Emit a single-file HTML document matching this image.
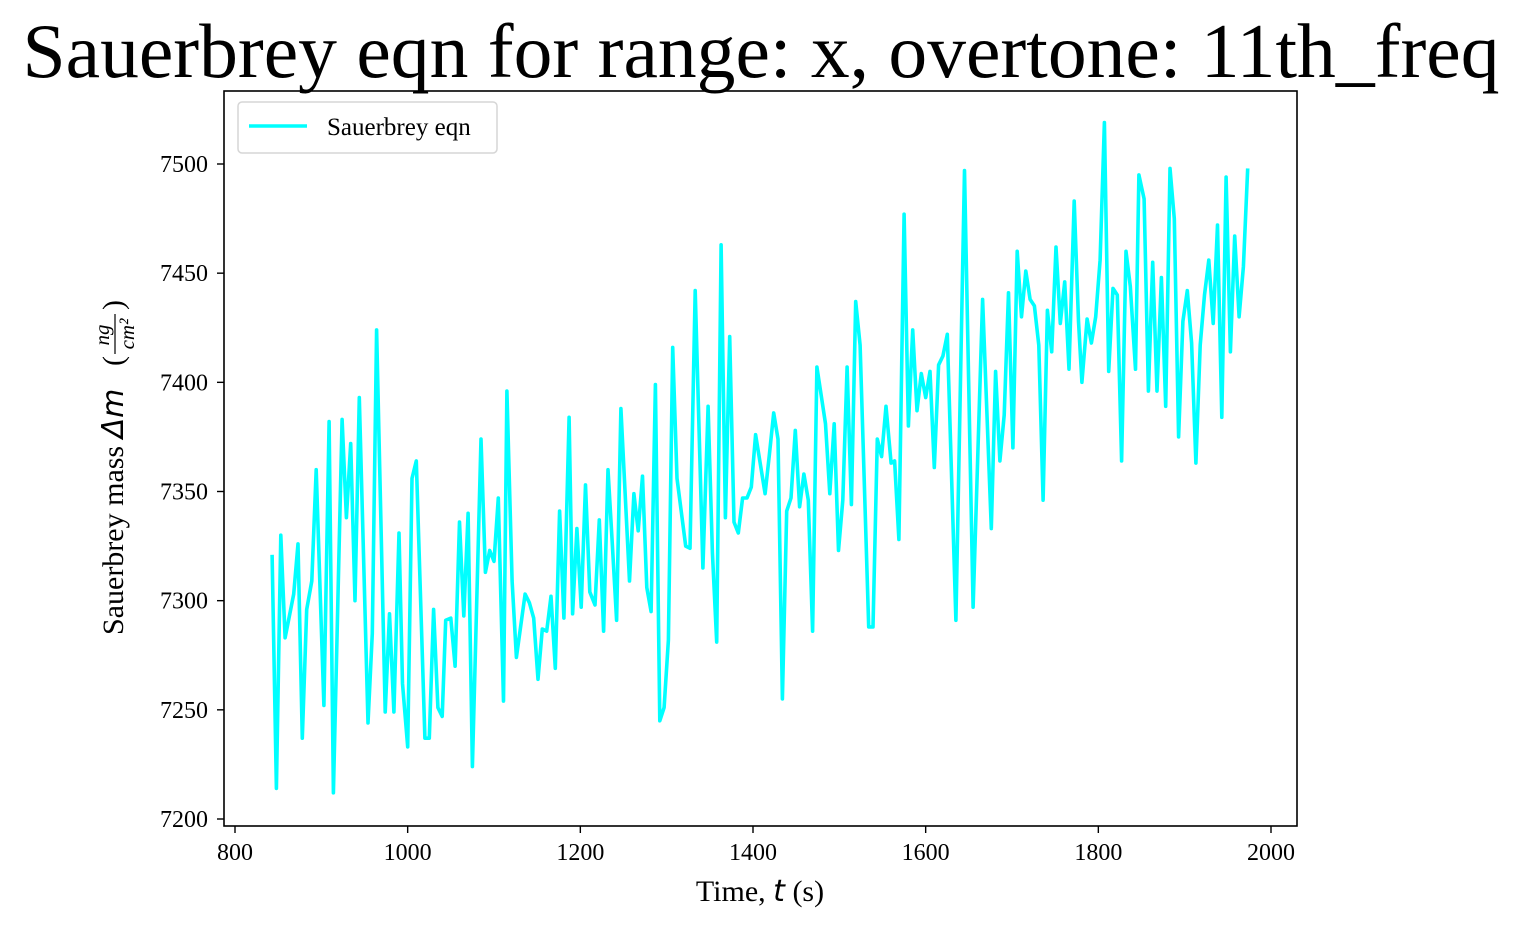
<!DOCTYPE html>
<html>
<head>
<meta charset="utf-8">
<style>
  html, body { margin: 0; padding: 0; background: #ffffff; }
  svg { display: block; }
  text { font-family: "Liberation Serif", "DejaVu Serif", serif; fill: #000; }
</style>
</head>
<body>
<svg id="chart" width="1520" height="932" viewBox="0 0 1520 932" xmlns="http://www.w3.org/2000/svg">
  <rect x="0" y="0" width="1520" height="932" fill="#fff"/>
  <text x="761" y="77" font-size="77" text-anchor="middle" textLength="1477" lengthAdjust="spacingAndGlyphs">Sauerbrey eqn for range: x, overtone: 11th_freq</text>
  <g id="xticks"></g>
  <g id="yticks"></g>
  <g id="series"></g>
  <rect x="224" y="91" width="1073" height="735" fill="none" stroke="#000" stroke-width="1.6"/>
  <text x="760" y="901" font-size="30" text-anchor="middle">Time, <tspan font-family="DejaVu Sans, sans-serif" font-style="italic">t</tspan> (s)</text>
  <g transform="translate(123,458) rotate(-90)">
    <text x="-177" y="0" font-size="30">Sauerbrey mass <tspan font-family="DejaVu Sans, sans-serif" font-style="italic">Δm</tspan></text>
    <text x="92" y="0" font-size="30">(</text>
    <text x="123" y="-14" font-size="21" font-family="DejaVu Sans, sans-serif" font-style="italic" text-anchor="middle">ng</text>
    <line x1="104" y1="-8" x2="144" y2="-8" stroke="#000" stroke-width="1.2"/>
    <text x="124" y="11" font-size="21" font-family="DejaVu Sans, sans-serif" font-style="italic" text-anchor="middle">cm²</text>
    <text x="148" y="0" font-size="30">)</text>
  </g>
  <g>
    <rect x="238" y="102" width="259" height="51" rx="4" fill="#fff" stroke="#d6d6d6" stroke-width="1.5"/>
    <line x1="249" y1="126" x2="307" y2="126" stroke="#00ffff" stroke-width="3.6"/>
    <text x="327" y="135" font-size="25">Sauerbrey eqn</text>
  </g>
</svg>
<script>
const times = [843,848,853,858,868,873,878,883,889,894,899,903,909,914,924,929,934,939,944,954,959,964,974,979,984,990,994,1000,1005,1010,1020,1025,1030,1035,1040,1044,1050,1055,1060,1065,1070,1075,1085,1090,1095,1100,1105,1111,1115,1121,1126,1136,1141,1146,1151,1156,1161,1166,1171,1176,1181,1187,1191,1196,1201,1206,1211,1217,1222,1227,1232,1237,1242,1247,1257,1262,1267,1272,1277,1282,1287,1292,1297,1302,1307,1312,1322,1327,1333,1342,1348,1353,1358,1363,1368,1373,1378,1383,1388,1393,1398,1403,1414,1419,1424,1429,1434,1439,1444,1449,1454,1459,1464,1469,1474,1479,1484,1489,1494,1499,1504,1509,1514,1519,1524,1534,1539,1544,1549,1554,1560,1564,1569,1575,1580,1585,1590,1595,1600,1605,1610,1615,1620,1625,1635,1645,1655,1666,1676,1681,1686,1691,1696,1701,1706,1711,1716,1721,1726,1731,1736,1741,1746,1751,1756,1761,1766,1772,1777,1781,1787,1792,1797,1802,1807,1812,1817,1822,1827,1832,1837,1843,1847,1853,1858,1863,1868,1873,1878,1883,1888,1893,1898,1903,1908,1913,1918,1923,1928,1933,1938,1943,1948,1953,1958,1963,1968,1973];
const values = [7321,7214,7330,7283,7303,7326,7237,7296,7309,7360,7299,7252,7382,7212,7383,7338,7372,7300,7393,7244,7285,7424,7249,7294,7249,7331,7262,7233,7356,7364,7237,7237,7296,7251,7247,7291,7292,7270,7336,7293,7340,7224,7374,7313,7323,7318,7347,7254,7396,7309,7274,7303,7299,7292,7264,7287,7286,7302,7269,7341,7292,7384,7294,7333,7297,7353,7304,7298,7337,7286,7360,7326,7291,7388,7309,7349,7332,7357,7306,7295,7399,7245,7251,7282,7416,7356,7325,7324,7442,7315,7389,7322,7281,7463,7338,7421,7336,7331,7347,7347,7352,7376,7349,7367,7386,7374,7255,7341,7347,7378,7343,7358,7346,7286,7407,7394,7381,7349,7381,7323,7346,7407,7344,7437,7417,7288,7288,7374,7366,7389,7363,7364,7328,7477,7380,7424,7387,7404,7393,7405,7361,7408,7412,7422,7291,7497,7297,7438,7333,7405,7364,7385,7441,7370,7460,7430,7451,7438,7435,7417,7346,7433,7414,7462,7427,7446,7406,7483,7428,7400,7429,7418,7430,7456,7519,7405,7443,7440,7364,7460,7444,7406,7495,7484,7396,7455,7396,7448,7389,7498,7475,7375,7428,7442,7418,7363,7417,7440,7456,7427,7472,7384,7494,7414,7467,7430,7453,7498];
const xTickValues = [800,1000,1200,1400,1600,1800,2000];
const yTickValues = [7200,7250,7300,7350,7400,7450,7500];

const NS = 'http://www.w3.org/2000/svg';
function xScale(t) { return 235 + (t - 800) * (1036 / 1200); }
function yScale(v) { return 164 + (7500 - v) * (655 / 300); }

const xg = document.getElementById('xticks');
xTickValues.forEach(function (t) {
  const x = xScale(t);
  const ln = document.createElementNS(NS, 'line');
  ln.setAttribute('x1', x); ln.setAttribute('x2', x);
  ln.setAttribute('y1', 826); ln.setAttribute('y2', 833);
  ln.setAttribute('stroke', '#000'); ln.setAttribute('stroke-width', '1.4');
  
  
  xg.appendChild(ln);
  const tx = document.createElementNS(NS, 'text');
  tx.setAttribute('x', x); tx.setAttribute('y', 860);
  tx.setAttribute('font-size', '24'); tx.setAttribute('text-anchor', 'middle');
  tx.textContent = String(t);
  
  
  xg.appendChild(tx);
});

const yg = document.getElementById('yticks');
yTickValues.forEach(function (v) {
  const y = yScale(v);
  const ln = document.createElementNS(NS, 'line');
  ln.setAttribute('x1', 217); ln.setAttribute('x2', 224);
  ln.setAttribute('y1', y); ln.setAttribute('y2', y);
  ln.setAttribute('stroke', '#000'); ln.setAttribute('stroke-width', '1.4');
  
  
  yg.appendChild(ln);
  const tx = document.createElementNS(NS, 'text');
  tx.setAttribute('x', 208); tx.setAttribute('y', y + 8);
  tx.setAttribute('font-size', '24'); tx.setAttribute('text-anchor', 'end');
  tx.textContent = String(v);
  
  
  yg.appendChild(tx);
});

const sg = document.getElementById('series');
const pts = times.map(function (t, i) { return xScale(t).toFixed(1) + ',' + yScale(values[i]).toFixed(1); }).join(' ');
const pl = document.createElementNS(NS, 'polyline');
pl.setAttribute('points', pts);
pl.setAttribute('fill', 'none');
pl.setAttribute('stroke', '#00ffff');
pl.setAttribute('stroke-width', '3.6');
pl.setAttribute('stroke-linejoin', 'round');


sg.appendChild(pl);
</script>
</body>
</html>
